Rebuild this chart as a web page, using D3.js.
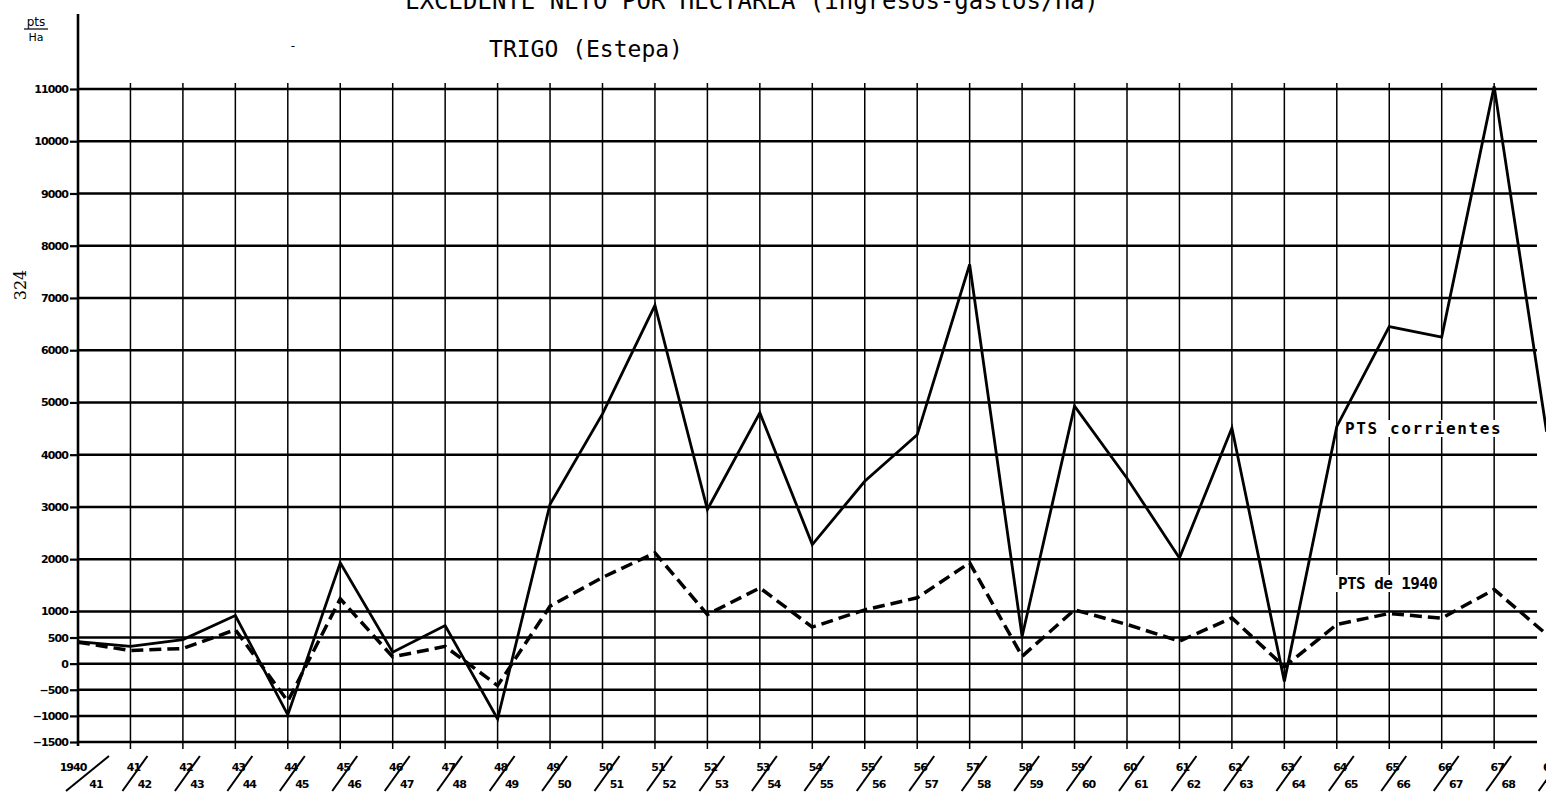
<!DOCTYPE html>
<html>
<head>
<meta charset="utf-8">
<script src="https://cdn.jsdelivr.net/npm/d3@7/dist/d3.min.js"></script>
<style>
  html, body { margin: 0; padding: 0; background: #fff; }
  svg { display: block; }
</style>
</head>
<body>
<svg id="chart" width="1546" height="794"></svg>
<script>
// ---------------- DATA ----------------
const categories = ["1940/41","41/42","42/43","43/44","44/45","45/46","46/47","47/48","48/49","49/50",
  "50/51","51/52","52/53","53/54","54/55","55/56","56/57","57/58","58/59","59/60",
  "60/61","61/62","62/63","63/64","64/65","65/66","66/67","67/68","68/69"];
const ptsCorrientes = [420, 330, 460, 920, -980, 1930, 220, 730, -1060, 3050,
  4780, 6860, 2950, 4800, 2280, 3490, 4380, 7640, 520, 4930,
  3550, 2020, 4510, -340, 4540, 6450, 6250, 11050, 4440];
const pts1940 = [410, 250, 290, 650, -720, 1240, 130, 330, -420, 1100,
  1650, 2120, 940, 1450, 700, 1030, 1260, 1930, 140, 1030,
  750, 430, 875, -60, 750, 960, 870, 1420, 560];
const yTicks = [-1500, -1000, -500, 0, 500, 1000, 2000, 3000, 4000, 5000, 6000, 7000, 8000, 9000, 10000, 11000];
const titleText = "EXCEDENTE NETO POR HECTAREA (ingresos-gastos/Ha)";
const subtitleText = "TRIGO (Estepa)";
const legendCorrientes = "PTS corrientes";
const legend1940 = "PTS de 1940";

// ---------------- CHART ----------------
const svg = d3.select("#chart");
const W = 1546, H = 794;
const left = 78, gridRight = 1537;

const x = d3.scalePoint().domain(categories).range([left, left + 28 * 52.45]);
const y = d3.scaleLinear().domain([-1500, 11000]).range([742, 89]);

svg.append("defs").append("clipPath").attr("id", "clip")
  .append("rect").attr("x", 0).attr("y", 0).attr("width", W).attr("height", H);

const g = svg.append("g").attr("clip-path", "url(#clip)");

// vertical gridlines
g.append("g").selectAll("line").data(categories.slice(1, 28)).join("line")
  .attr("x1", d => x(d)).attr("x2", d => x(d))
  .attr("y1", y(11000) - 6).attr("y2", y(-1500) + 7)
  .attr("stroke", "#000").attr("stroke-width", 1.5);

// horizontal gridlines
g.append("g").selectAll("line").data(yTicks).join("line")
  .attr("x1", left).attr("x2", gridRight)
  .attr("y1", d => y(d)).attr("y2", d => y(d))
  .attr("stroke", "#000").attr("stroke-width", 2.5);

// y axis line
g.append("line").attr("x1", left).attr("x2", left).attr("y1", 14).attr("y2", y(-1500) + 4)
  .attr("stroke", "#000").attr("stroke-width", 2.6);

// y ticks + labels
const yAxis = d3.axisLeft(y).tickValues(yTicks).tickSize(8).tickPadding(2).tickFormat(d3.format("d"));
const ya = g.append("g").attr("transform", `translate(${left},0)`).call(yAxis);
ya.select(".domain").remove();
ya.selectAll(".tick line").attr("stroke", "#000").attr("stroke-width", 2.2);
ya.selectAll(".tick text").attr("font-family", "DejaVu Sans").attr("font-weight", "bold")
  .attr("font-size", 11).attr("fill", "#000").attr("letter-spacing", -0.9);

// x labels (diagonal "aa/bb" style)
const xl = g.append("g").selectAll("g").data(categories).join("g")
  .attr("transform", d => `translate(${x(d)},0)`);
xl.append("text").attr("x", (d, i) => i === 0 ? -5 : 3).attr("y", 771)
  .attr("text-anchor", "middle").attr("font-family", "DejaVu Sans").attr("font-weight", "bold")
  .attr("font-size", 11).attr("letter-spacing", -1)
  .text(d => d.split("/")[0]);
xl.append("line")
  .attr("x1", (d, i) => i === 0 ? -12 : -8).attr("y1", 791)
  .attr("x2", (d, i) => i === 0 ? 31 : 17).attr("y2", 756)
  .attr("stroke", "#000").attr("stroke-width", 2);
xl.append("text").attr("x", (d, i) => i === 0 ? 18 : 14).attr("y", 788)
  .attr("text-anchor", "middle").attr("font-family", "DejaVu Sans").attr("font-weight", "bold")
  .attr("font-size", 11).attr("letter-spacing", -1)
  .text(d => d.split("/")[1]);

// legend labels with white background
function label(txt, cx, by, ls) {
  const t = g.append("text").attr("x", cx).attr("y", by)
    .attr("font-family", "DejaVu Sans Mono").attr("font-size", 16).attr("font-weight", "bold")
    .attr("letter-spacing", ls).attr("fill", "#000").text(txt);
  const bb = t.node().getBBox();
  g.insert("rect", () => t.node()).attr("x", bb.x - 3).attr("y", bb.y + 1)
    .attr("width", bb.width + 6).attr("height", bb.height - 2).attr("fill", "#fff");
}

// series lines
const lineGen = d3.line().x((d, i) => x(categories[i])).y(d => y(d));
g.append("path").datum(ptsCorrientes).attr("d", lineGen)
  .attr("fill", "none").attr("stroke", "#000").attr("stroke-width", 2.8).attr("stroke-linejoin", "miter");
g.append("path").datum(pts1940).attr("d", lineGen)
  .attr("fill", "none").attr("stroke", "#000").attr("stroke-width", 3.5)
  .attr("stroke-dasharray", "12,6");

label(legendCorrientes, 1345, 434, 1.6);
label(legend1940, 1338, 589, -0.6);

// titles
g.append("text").attr("x", 752).attr("y", 9).attr("text-anchor", "middle")
  .attr("font-family", "DejaVu Sans Mono").attr("font-size", 24).attr("fill", "#000")
  .text(titleText);
g.append("text").attr("x", 586).attr("y", 57).attr("text-anchor", "middle")
  .attr("font-family", "DejaVu Sans Mono").attr("font-size", 23).attr("fill", "#000")
  .text(subtitleText);

// unit label pts / Ha
g.append("text").attr("x", 36).attr("y", 26).attr("text-anchor", "middle")
  .attr("font-family", "DejaVu Sans").attr("font-size", 12).text("pts");
g.append("line").attr("x1", 24).attr("x2", 48).attr("y1", 29).attr("y2", 29)
  .attr("stroke", "#000").attr("stroke-width", 1.2);
g.append("text").attr("x", 36).attr("y", 41).attr("text-anchor", "middle")
  .attr("font-family", "DejaVu Sans").attr("font-size", 11).text("Ha");

// page number
g.append("text").attr("transform", "translate(26,285) rotate(-90)").attr("text-anchor", "middle")
  .attr("font-family", "DejaVu Serif").attr("font-size", 16).text("324");
g.append("text").attr("x", 293).attr("y", 50).attr("text-anchor", "middle")
  .attr("font-family", "DejaVu Sans").attr("font-size", 12).text("-");
</script>
</body>
</html>
